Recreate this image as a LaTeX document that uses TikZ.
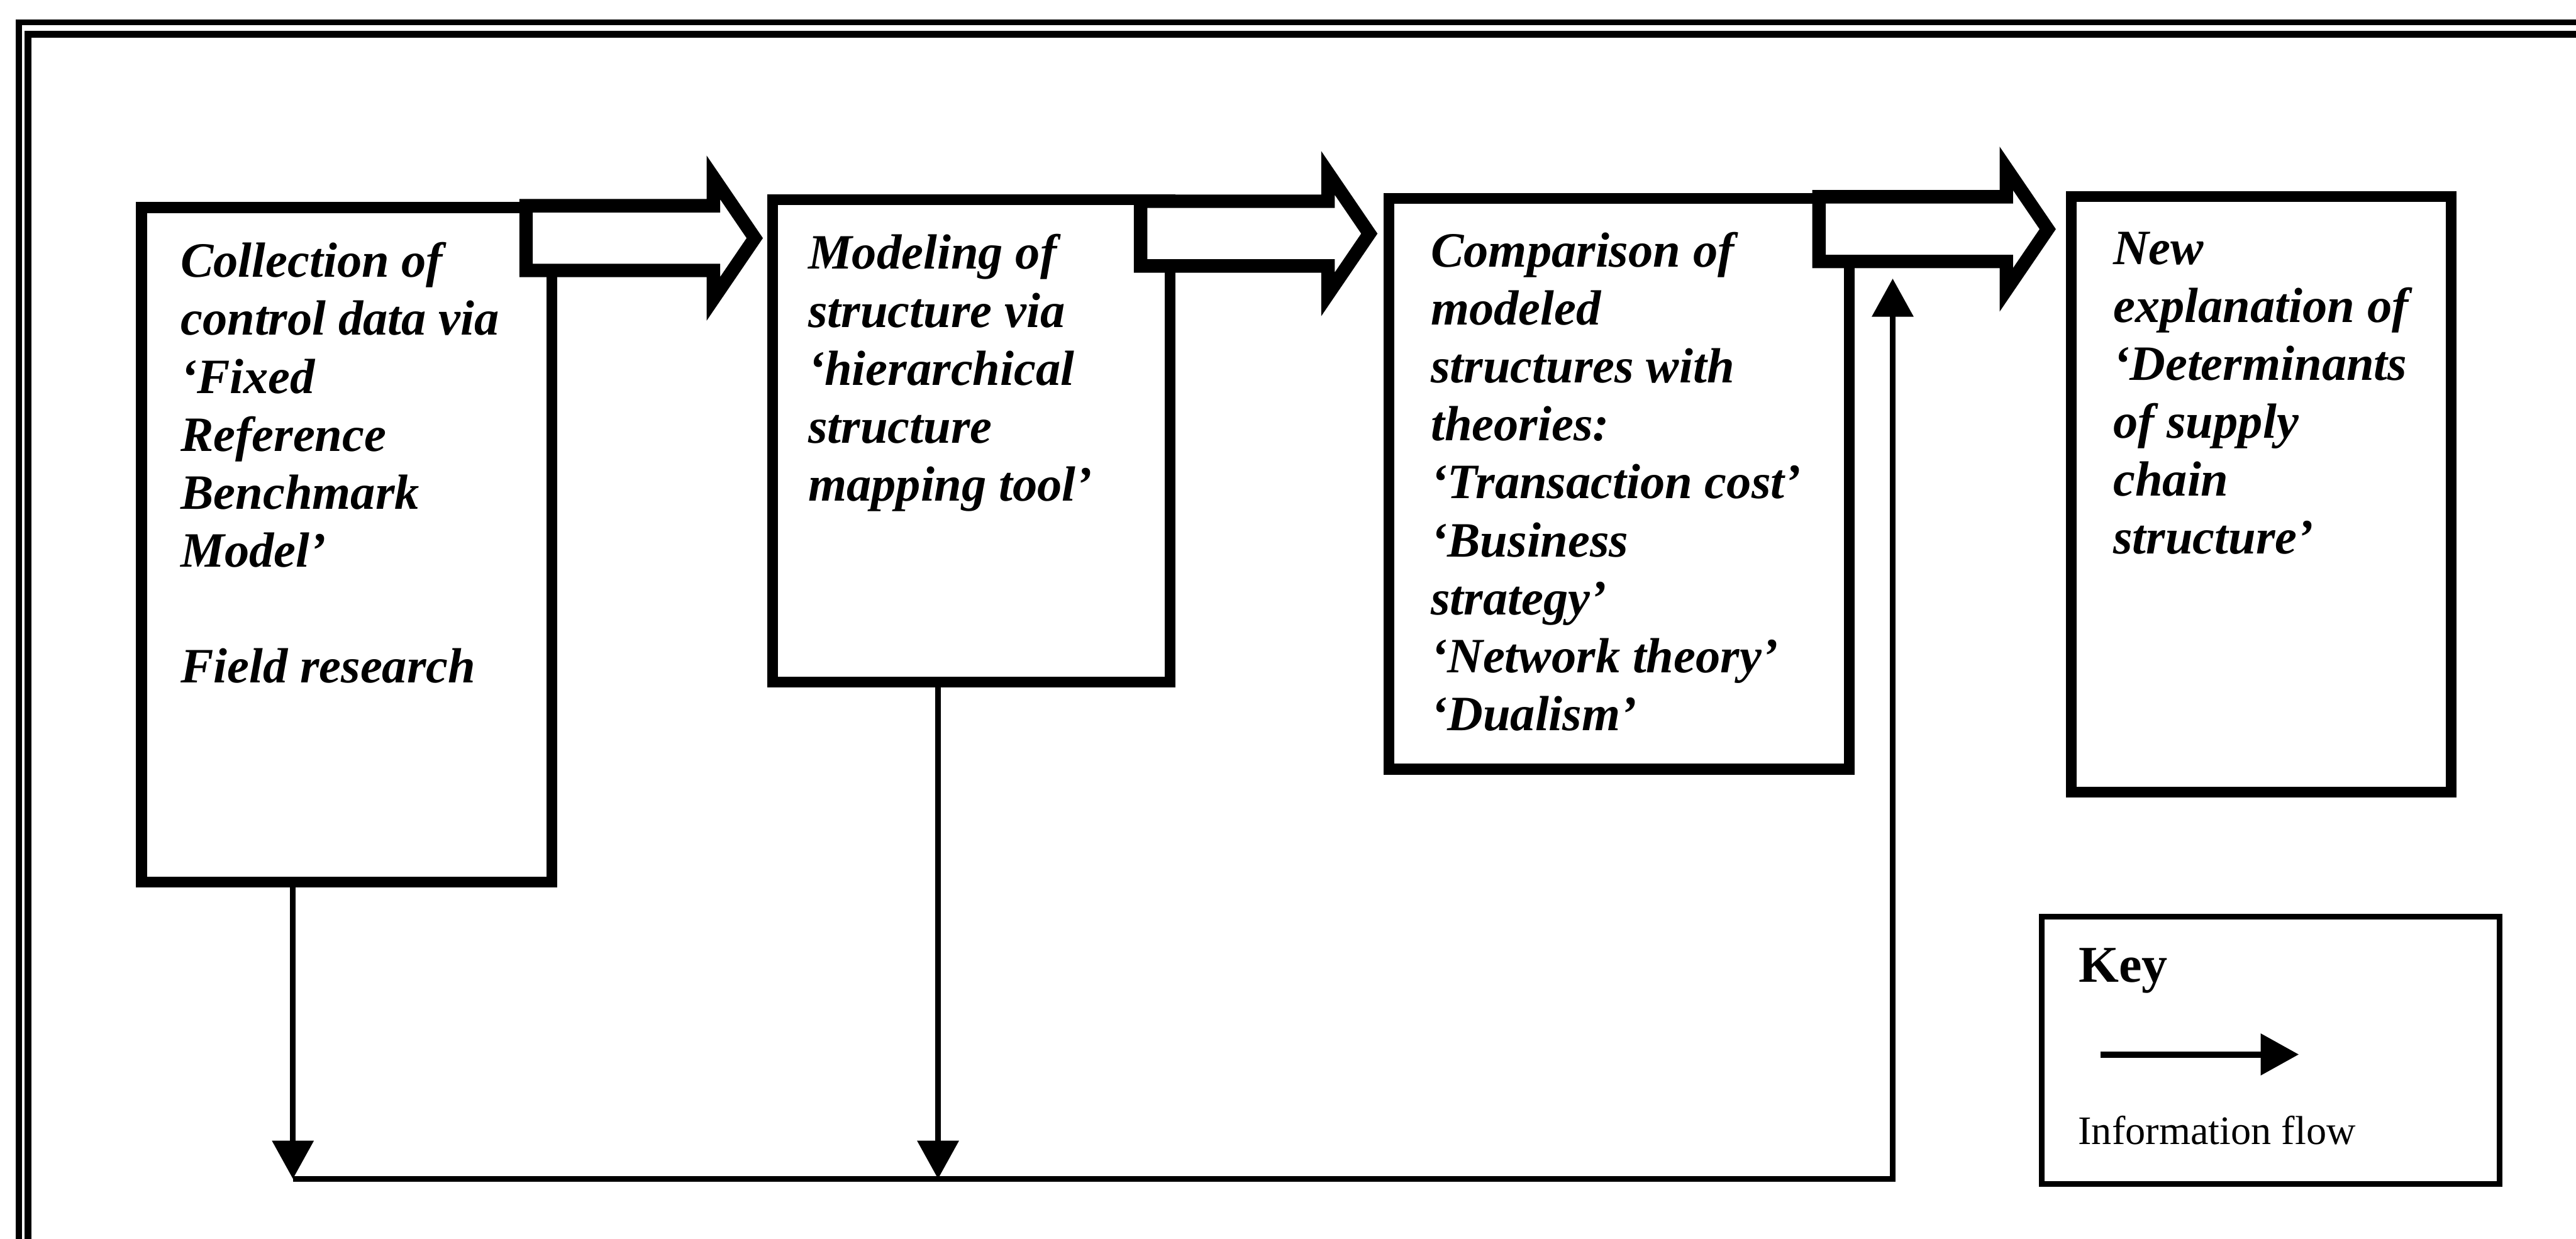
\documentclass[tikz,border=0pt]{standalone}
\usepackage{fontspec}
\setmainfont{Liberation Serif}
\usetikzlibrary{arrows.meta,positioning,calc}

\begin{document}
\begin{tikzpicture}[
  x=10pt, y=-10pt,
  stage/.style={draw, line width=2.4pt, anchor=north west, inner sep=0pt, outer sep=0pt},
  stagetext/.style={anchor=north west, inner sep=0pt, align=left, font=\fontsize{11}{12.9}\selectfont\bfseries\itshape},
  hollow/.style={draw, fill=white, line width=3pt, line join=miter},
  flow/.style={-{Triangle[length=8.5pt, width=9pt]}, line width=1.3pt},
  frameline/.style={draw, line width=1.3pt},
  keybox/.style={draw, line width=1.2pt, anchor=north west, inner sep=0pt, outer sep=0pt},
  note/.style={anchor=base west, inner sep=0pt}
]
\useasboundingbox (0,0) rectangle (57.34,27.57);

\draw[frameline] (0.42,0.50) rectangle (60,30);
\draw[frameline, line width=1.5pt] (0.62,0.76) rectangle (60,30);

\node[stage, minimum width=91.3pt, minimum height=150.1pt] (collect) at (3.15,4.62) {};
\node[stage, minimum width=88.4pt, minimum height=107.3pt] (model) at (17.20,4.45) {};
\node[stage, minimum width=102.4pt, minimum height=127pt] (compare) at (30.92,4.42) {};
\node[stage, minimum width=84.6pt, minimum height=132.6pt] (explain) at (46.10,4.37) {};

\coordinate (lane1) at (0,5.30);
\coordinate (lane2) at (0,5.20);
\coordinate (lane3) at (0,5.10);
\draw[hollow] ([xshift=-4pt]model.west |- lane1) -- ++(-0.92,-1.35) -- ++(0,0.63) -- ++(-4.17,0) -- ++(0,1.44) -- ++(4.17,0) -- ++(0,0.63) -- cycle;
\draw[hollow] ([xshift=-4.4pt]compare.west |- lane2) -- ++(-0.92,-1.35) -- ++(0,0.63) -- ++(-4.17,0) -- ++(0,1.44) -- ++(4.17,0) -- ++(0,0.63) -- cycle;
\draw[hollow] ([xshift=-5.2pt]explain.west |- lane3) -- ++(-0.92,-1.35) -- ++(0,0.63) -- ++(-4.17,0) -- ++(0,1.44) -- ++(4.17,0) -- ++(0,0.63) -- cycle;

\node[stagetext] (collecttext) at ([shift={(0.85,0.627)}]collect.north west) {\strut Collection of\\control data via\\‘Fixed\\Reference\\Benchmark\\Model’\\[12.9pt]Field research};
\node[stagetext] (modeltext) at ([shift={(0.77,0.617)}]model.north west) {\strut Modeling of\\structure via\\‘hierarchical\\structure\\mapping tool’};
\node[stagetext] (comparetext) at ([shift={(0.91,0.597)}]compare.north west) {\strut Comparison of\\modeled\\structures with\\theories:\\‘Transaction cost’\\‘Business\\strategy’\\‘Network theory’\\‘Dualism’};
\node[stagetext] (explaintext) at ([shift={(0.92,0.587)}]explain.north west) {\strut New\\explanation of\\‘Determinants\\of supply\\chain\\structure’};

\coordinate (drop1) at ([xshift=33.7pt]collect.south west);
\coordinate (drop2) at ([xshift=36.8pt]model.south west);
\coordinate (busL) at (6.52,26.24);
\coordinate (busR) at (42.13,26.24);
\coordinate (feedin) at (42.13,6.20);
\draw[flow] (drop1) -- (drop1 |- busL);
\draw[flow] (drop2) -- (drop2 |- busL);
\draw[flow] (busL) -- (busR) -- (feedin);

\node[keybox, minimum width=101.9pt, minimum height=59.5pt] (key) at (45.45,20.40) {};
\node[note, font=\fontsize{11.5}{13}\selectfont\bfseries] (keytitle) at ([shift={(0.80,1.46)}]key.north west) {Key};
\coordinate (keytail) at (46.75,23.47);
\coordinate (keyhead) at (51.17,23.47);
\draw[flow, line width=1.4pt] (keytail) -- (keyhead);
\node[note, font=\fontsize{9}{11}\selectfont] (keylabel) at ([shift={(0.79,5.07)}]key.north west) {Information flow};
\end{tikzpicture}
\end{document}
